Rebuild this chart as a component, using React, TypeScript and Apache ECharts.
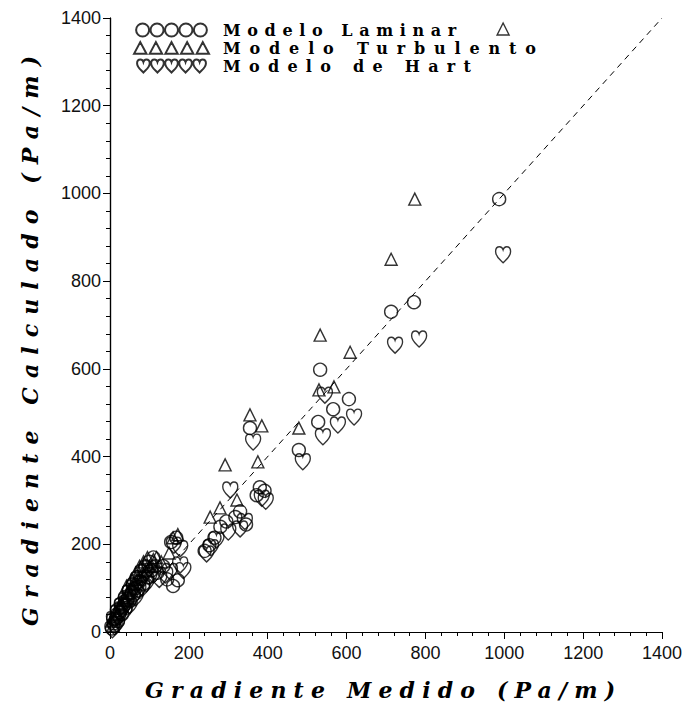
import React, { useEffect, useRef } from "react";
import * as echarts from "echarts";

// ---- data ----
const seriesNames = ["Modelo Laminar", "Modelo Turbulento", "Modelo de Hart"];
const xTitle = "Gradiente Medido (Pa/m)";
const yTitle = "Gradiente Calculado (Pa/m)";
const axisMin = 0;
const axisMax = 1400;
const axisStep = 200;
const identityLine = [[0, 0], [1400, 1400]];

const laminar = [
  [5, 8], [10, 20], [15, 30], [20, 25], [25, 45], [30, 40], [35, 60], [40, 55], [45, 75],
  [50, 70], [55, 90], [60, 85], [65, 100], [70, 95], [75, 115], [85, 110], [95, 125], [105, 140],
  [115, 150], [120, 135], [135, 150], [145, 120], [160, 105], [172, 118],
  [8, 30], [18, 50], [28, 65], [38, 80], [48, 95], [58, 110], [68, 125], [80, 140], [90, 150],
  [100, 160], [110, 170],
  [155, 205], [168, 215], [240, 185], [252, 198], [265, 215], [280, 240], [295, 252], [318, 262],
  [330, 275], [345, 245], [372, 312], [380, 330], [392, 322], [355, 465], [479, 415], [528, 479],
  [533, 598], [566, 508], [606, 531], [713, 730], [771, 752], [987, 987],
];

const turbulento = [
  [8, 15], [12, 30], [18, 40], [25, 55], [30, 65], [38, 72], [45, 88], [52, 100], [60, 110],
  [70, 120], [80, 130], [90, 140], [100, 150], [110, 165], [118, 170], [130, 160], [150, 180],
  [5, 25], [15, 48], [25, 62], [35, 78], [42, 105], [55, 120], [65, 135], [75, 150], [85, 160],
  [95, 170],
  [160, 215], [172, 222], [254, 262],
  [279, 283], [292, 381], [322, 301], [355, 495], [375, 388], [385, 470], [479, 465], [530, 552],
  [568, 559], [533, 677], [609, 638], [713, 850], [773, 987], [997, 1375],
];

const hart = [
  [6, 5], [12, 12], [18, 18], [22, 35], [30, 50], [36, 45], [42, 65], [50, 60], [58, 80],
  [65, 78], [72, 95], [82, 100], [92, 110], [100, 125], [110, 130], [125, 120], [140, 130],
  [10, 28], [20, 42], [30, 58], [40, 70], [50, 88], [60, 100], [70, 112], [80, 122], [90, 135],
  [100, 145],
  [152, 138], [162, 198], [178, 190], [178, 153], [186, 140], [245, 178], [256, 192], [270, 210],
  [300, 228], [305, 324], [330, 235], [342, 252], [363, 433], [385, 305], [395, 298], [489, 388],
  [540, 445], [545, 540], [578, 472], [619, 490], [723, 654], [784, 668], [997, 860],
];

// ---- symbol shapes ----
const heartD = (ox: number) =>
  `M${ox + 10},19 C${ox + 6},15 ${ox + 1},12 ${ox + 1},6 C${ox + 1},2.5 ${ox + 3.2},0.5 ${ox + 5.8},0.5 C${ox + 8},0.5 ${ox + 9.4},2 ${ox + 10},4 C${ox + 10.6},2 ${ox + 12},0.5 ${ox + 14.2},0.5 C${ox + 16.8},0.5 ${ox + 19},2.5 ${ox + 19},6 C${ox + 19},12 ${ox + 14},15 ${ox + 10},19 Z`;
const HEART = "path://" + heartD(0);
const five = (f: (ox: number) => string) => "path://" + [0, 1, 2, 3, 4].map((i) => f(i * 20)).join(" ");
const circleD = (ox: number) => `M${ox + 1},10 a9,9 0 1,0 18,0 a9,9 0 1,0 -18,0 Z`;
const triD = (ox: number) => `M${ox + 2},19 L${ox + 10},4 L${ox + 18},19 Z`;

const spacingTargets: Record<string, number> = {
  "Modelo Laminar": 233,
  "Modelo Turbulento": 313,
  "Modelo de Hart": 248,
  [xTitle]: 470,
  [yTitle]: 570,
};

function applySpacing(root: HTMLElement) {
  root.querySelectorAll("text").forEach((t: any) => {
    const s = (t.textContent || "").trim();
    const target = spacingTargets[s];
    if (!target) return;
    t.style.letterSpacing = "0px";
    const len = t.getComputedTextLength();
    const ls = (target - len) / Math.max(1, s.length - 1);
    t.style.letterSpacing = ls.toFixed(2) + "px";
  });
}

const hollow = { color: "rgba(255,255,255,0)", borderColor: "#000", borderWidth: 1.4 };
const labelFont = {
  fontFamily: "'Liberation Sans', Arial, sans-serif",
  fontSize: 18,
  color: "#111",
  formatter: (v: number) => String(v),
};
const titleFont = {
  fontFamily: "'DejaVu Serif', serif",
  fontStyle: "italic",
  fontWeight: "bold",
  fontSize: 22,
  fill: "#000",
};

export default function App() {
  const ref = useRef<HTMLDivElement>(null);
  useEffect(() => {
    if (!ref.current) return;
    const chart = echarts.init(ref.current, undefined, { renderer: "svg" });
    const baseAxis = {
      type: "value" as const,
      min: axisMin,
      max: axisMax,
      interval: axisStep,
      splitLine: { show: false },
    };
    chart.setOption({
      animation: false,
      backgroundColor: "#fff",
      grid: { left: 110, right: 26, top: 18, bottom: 81, containLabel: false },
      legend: {
        orient: "vertical",
        left: 133,
        top: 22,
        padding: 0,
        itemWidth: 75,
        itemHeight: 13,
        itemGap: 2,
        selectedMode: false,
        data: [
          { name: seriesNames[0], icon: five(circleD) },
          { name: seriesNames[1], icon: five(triD) },
          { name: seriesNames[2], icon: five(heartD) },
        ],
        textStyle: {
          fontFamily: "'DejaVu Serif', serif",
          fontWeight: "bold",
          fontSize: 16,
          lineHeight: 16,
          color: "#000",
          padding: [0, 0, 0, 9],
        },
      },
      xAxis: [
        {
          ...baseAxis,
          position: "bottom",
          axisLine: { lineStyle: { color: "#000", width: 1.2 } },
          axisTick: { show: true, inside: false, length: 7, lineStyle: { color: "#000" } },
          minorTick: { show: true, splitNumber: 5, length: 4, lineStyle: { color: "#000" } },
          axisLabel: { ...labelFont, margin: 12 },
        },
        {
          ...baseAxis,
          position: "top",
          axisLine: { lineStyle: { color: "#000", width: 1.2 } },
          axisTick: { show: false },
          axisLabel: { show: false },
        },
      ],
      yAxis: [
        {
          ...baseAxis,
          position: "left",
          axisLine: { lineStyle: { color: "#000", width: 1.2 } },
          axisTick: { show: true, inside: false, length: 7, lineStyle: { color: "#000" } },
          minorTick: { show: true, splitNumber: 5, length: 4, lineStyle: { color: "#000" } },
          axisLabel: { ...labelFont, margin: 9 },
        },
        {
          ...baseAxis,
          position: "right",
          axisLine: { lineStyle: { color: "#000", width: 1.2 } },
          axisTick: { show: true, inside: true, length: 4, lineStyle: { color: "#000" } },
          minorTick: { show: true, splitNumber: 5, length: 2, lineStyle: { color: "#000" } },
          axisLabel: { show: false },
        },
      ],
      graphic: [
        {
          type: "text",
          x: 145,
          y: 690,
          style: { ...titleFont, text: xTitle, x: 0, y: 0, textAlign: "left", textVerticalAlign: "middle" },
        },
        {
          type: "text",
          x: 30,
          y: 626,
          rotation: Math.PI / 2,
          style: { ...titleFont, text: yTitle, x: 0, y: 0, textAlign: "left", textVerticalAlign: "middle" },
        },
      ],
      series: [
        {
          type: "line",
          data: identityLine,
          symbol: "none",
          silent: true,
          z: 1,
          lineStyle: { color: "#000", width: 1, type: [6, 5] },
        },
        {
          name: seriesNames[0],
          type: "scatter",
          data: laminar,
          symbol: "circle",
          symbolSize: 13,
          itemStyle: hollow,
          z: 3,
        },
        {
          name: seriesNames[1],
          type: "scatter",
          data: turbulento,
          symbol: "triangle",
          symbolSize: 12,
          itemStyle: hollow,
          z: 3,
        },
        {
          name: seriesNames[2],
          type: "scatter",
          data: hart,
          symbol: HEART,
          symbolSize: [15, 16],
          itemStyle: hollow,
          z: 3,
        },
      ],
    });
    const el = ref.current;
    applySpacing(el);
    chart.on("finished", () => applySpacing(el));
    const t = setTimeout(() => applySpacing(el), 50);
    return () => {
      clearTimeout(t);
      chart.dispose();
    };
  }, []);
  return (
    <div
      ref={ref}
      style={{ position: "absolute", left: 0, top: 0, width: 688, height: 713, background: "#fff" }}
    />
  );
}
